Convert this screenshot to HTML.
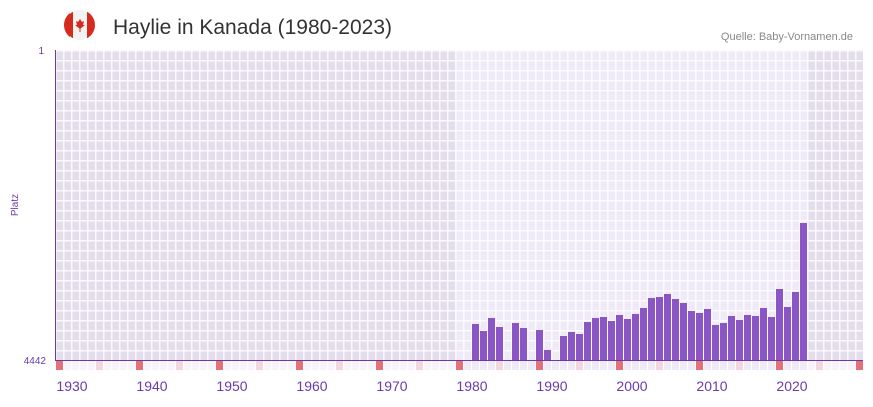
<!DOCTYPE html>
<html><head><meta charset="utf-8"><style>
body{margin:0;background:#fff;width:873px;height:402px;overflow:hidden;font-family:"Liberation Sans",sans-serif}
</style></head><body>
<svg width="873" height="402" viewBox="0 0 873 402" xmlns="http://www.w3.org/2000/svg">
<defs>
<pattern id="g" x="55" y="50" width="8" height="10" patternUnits="userSpaceOnUse">
<rect x="0" y="0" width="8" height="10" fill="none"/>
<rect x="0" y="0" width="1.5" height="10" fill="#fff" opacity="0.8"/>
<rect x="0" y="0" width="8" height="1.5" fill="#fff" opacity="0.8"/>
</pattern>
</defs>
<circle cx="80" cy="25" r="15" fill="#f2f2f2"/>
<path d="M70,13 A15,15 0 0 0 70,37 Z" fill="#d52b1e"/>
<rect x="65" y="12" width="8" height="26" fill="#d52b1e" clip-path="circle(15px at 15px 13px)"/>
<rect x="87" y="12" width="8" height="26" fill="#d52b1e" clip-path="circle(15px at -7px 13px)"/>
<path d="M80,19 l2,3 2,-1 -1,4 2,0 -5,4 -5,-4 2,0 -1,-4 2,1z" fill="#d52b1e"/>
<rect x="79.5" y="28" width="1" height="4" fill="#d52b1e"/>
<text x="113" y="34" font-size="21" fill="#333" font-family="Liberation Sans, sans-serif">Haylie in Kanada (1980-2023)</text>
<text x="853" y="40" font-size="11" fill="#888" text-anchor="end">Quelle: Baby-Vornamen.de</text>
<rect x="55" y="50" width="808" height="310" fill="#e4deec"/>
<rect x="456" y="50" width="352" height="310" fill="#efeaf8"/>
<rect x="55" y="50" width="808" height="310" fill="url(#g)"/>
<line x1="55.5" y1="50" x2="55.5" y2="360" stroke="#6a3aa8" stroke-width="1"/>
<text x="44" y="54" font-size="10" fill="#6a3aa8" text-anchor="end">1</text>
<text x="46" y="364" font-size="10" fill="#6a3aa8" text-anchor="end">4442</text>
<text x="18" y="205" font-size="10" fill="#6a3aa8" text-anchor="middle" transform="rotate(-90 18 205)">Platz</text>
<g fill="#8c55c6" id="bars"></g>
<g id="strip"></g>
<line x1="55" y1="360.5" x2="863" y2="360.5" stroke="#6a3aa8" stroke-width="1"/>
<g font-size="14" fill="#6a3aa8" text-anchor="middle">
<text x="72" y="391">1930</text><text x="152" y="391">1940</text><text x="232" y="391">1950</text><text x="312" y="391">1960</text><text x="392" y="391">1970</text><text x="472" y="391">1980</text><text x="552" y="391">1990</text><text x="632" y="391">2000</text><text x="712" y="391">2010</text><text x="792" y="391">2020</text>
</g>
</svg>
<script>
var tops={1980:324,1981:331,1982:318,1983:327,1985:323,1986:328,1988:330,1989:350,1991:336,1992:332,1993:334,1994:322,1995:318,1996:317,1997:321,1998:315,1999:319,2000:314,2001:308,2002:298,2003:297,2004:294,2005:299,2006:303,2007:311,2008:313,2009:309,2010:325,2011:323,2012:316,2013:320,2014:315,2015:316,2016:308,2017:317,2018:289,2019:307,2020:292,2021:223};
var ns="http://www.w3.org/2000/svg",b=document.getElementById("bars"),s=document.getElementById("strip");
for(var y in tops){var r=document.createElementNS(ns,"rect");var x=72+(y-1930)*8;r.setAttribute("x",x);r.setAttribute("y",tops[y]);r.setAttribute("width",7);r.setAttribute("height",360-tops[y]);b.appendChild(r);}
for(var y=1928;y<=2028;y++){var x=56+(y-1928)*8,m=(y-1928)%10;var c=m==0?"#e4707a":(m==5?"#f4d6e0":(y>=1978&&y<=2021?"#efeaf8":"#f6f3fa"));var r=document.createElementNS(ns,"rect");r.setAttribute("x",x);r.setAttribute("y",361);r.setAttribute("width",7);r.setAttribute("height",9);r.setAttribute("fill",c);s.appendChild(r);}
</script>
</body></html>
